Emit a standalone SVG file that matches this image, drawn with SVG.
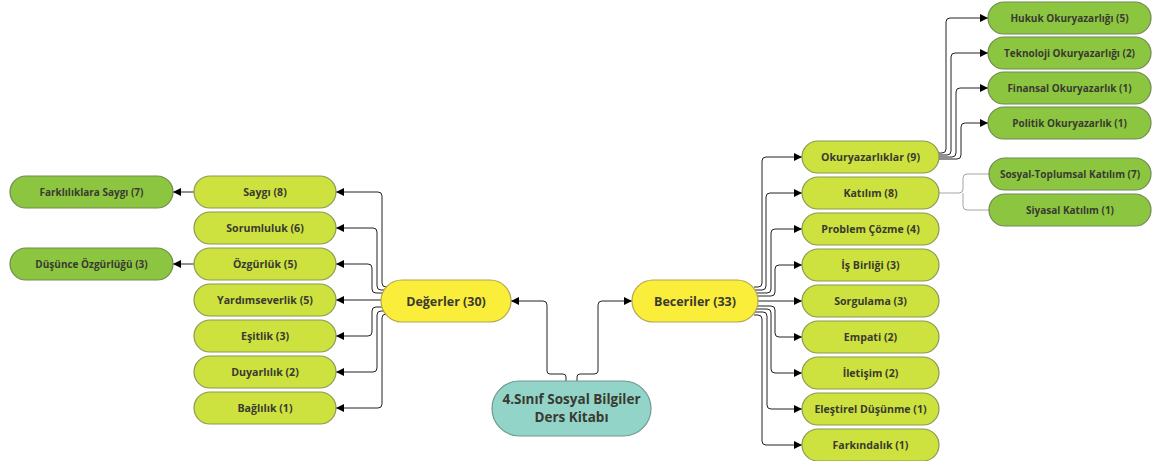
<svg xmlns="http://www.w3.org/2000/svg" width="1153" height="461" viewBox="0 0 1153 461">
<defs>
<marker id="ah" viewBox="0 0 8 8" refX="8" refY="4" markerWidth="8" markerHeight="8" markerUnits="userSpaceOnUse" orient="auto">
<path d="M0,0 L8,4 L0,8 z" fill="#000"/>
</marker>
</defs>
<style>
text{font-family:"Open Sans","DejaVu Sans",sans-serif;font-weight:bold;fill:#3a3a30;text-anchor:middle;dominant-baseline:central}
.s{font-size:10px}
.lg text{font-size:10.6px}
.m{font-size:12.5px}
.r{font-size:13.5px}
.lg rect{fill:#cde23e;stroke:#8a9a50;stroke-width:1.2}
.dg rect{fill:#8cc640;stroke:#6f8a50;stroke-width:1.2}
.yl rect{fill:#fbee3b;stroke:#b0a550;stroke-width:1.2}
.tl rect{fill:#92d4c8;stroke:#6f9a90;stroke-width:1.2}
.c path{fill:none;stroke:#222;stroke-width:1;marker-end:url(#ah)}
.c path.g{stroke:#9a9a9a;stroke-width:0.9;marker-end:none}
</style>
<rect width="1153" height="461" fill="#fff"/>
<g id="connectors" class="c">
<path d="M566 381 V377 Q566 374 563 374 H550 Q547 374 547 371 V305 Q547 301 543 301 H511"/>
<path d="M577 381 V377 Q577 374 580 374 H594 Q598 374 598 371 V305 Q598 301 602 301 H632"/>
<path d="M388 287 H386 Q382 287 382 283 V196 Q382 192 378 192 H336"/>
<path d="M386 290 H381 Q377 290 377 286 V232 Q377 228 373 228 H336"/>
<path d="M385 293 H376 Q372 293 372 289 V268 Q372 264 368 264 H336"/>
<path d="M381 300 H336"/>
<path d="M384 307 H376 Q372 307 372 311 V332 Q372 336 368 336 H336"/>
<path d="M385 311 H381 Q377 311 377 315 V368 Q377 372 373 372 H336"/>
<path d="M387 314 H386 Q382 314 382 318 V404 Q382 408 378 408 H336"/>
<path d="M194 192 H173"/>
<path d="M194 264 H173"/>
<path d="M754 287 H758 Q762 287 762 283 V161 Q762 157 766 157 H802"/>
<path d="M755 290 H762 Q766 290 766 286 V197 Q766 193 770 193 H802"/>
<path d="M756 293 H767 Q771 293 771 289 V233 Q771 229 775 229 H802"/>
<path d="M757 296 H771 Q775 296 775 292 V269 Q775 265 779 265 H802"/>
<path d="M758 301 H802"/>
<path d="M757 306 H771 Q775 306 775 310 V333 Q775 337 779 337 H802"/>
<path d="M756 309 H767 Q771 309 771 313 V369 Q771 373 775 373 H802"/>
<path d="M755 312 H763 Q767 312 767 316 V405 Q767 409 771 409 H802"/>
<path d="M754 315 H758 Q762 315 762 319 V441 Q762 445 766 445 H802"/>
<path d="M938 153 H942 Q946 153 946 149 V22 Q946 18 950 18 H988"/>
<path d="M939 155 H947 Q951 155 951 151 V57 Q951 53 955 53 H988"/>
<path d="M939 157 H952 Q956 157 956 153 V92 Q956 88 960 88 H988"/>
<path d="M939 159 H957 Q961 159 961 155 V127 Q961 123 965 123 H988"/>
<path class="g" d="M939 193 H959 Q963 193 963 189 V178 Q963 174 967 174 H989"/>
<path class="g" d="M963 193 V206 Q963 210 967 210 H989"/>
</g>
<g id="root" class="tl"><rect x="492" y="381" width="159" height="55" rx="27.5"/><text class="r" x="571.5" y="399">4.Sınıf Sosyal Bilgiler</text><text class="r" x="571.5" y="417">Ders Kitabı</text></g>
<g id="degerler" class="yl"><rect x="381" y="280" width="130" height="42" rx="21"/><text class="m" x="446" y="301">Değerler (30)</text></g>
<g id="beceriler" class="yl"><rect x="632" y="280" width="126" height="42" rx="21"/><text class="m" x="695" y="301">Beceriler (33)</text></g>
<g id="saygi" class="lg"><rect x="194" y="176" width="142" height="32" rx="16"/><text x="265" y="192">Saygı (8)</text></g>
<g id="sorumluluk" class="lg"><rect x="194" y="212" width="142" height="32" rx="16"/><text x="265" y="228">Sorumluluk (6)</text></g>
<g id="ozgurluk" class="lg"><rect x="194" y="248" width="142" height="32" rx="16"/><text x="265" y="264">Özgürlük (5)</text></g>
<g id="yardimseverlik" class="lg"><rect x="194" y="284" width="142" height="32" rx="16"/><text x="265" y="300">Yardımseverlik (5)</text></g>
<g id="esitlik" class="lg"><rect x="194" y="320" width="142" height="32" rx="16"/><text x="265" y="336">Eşitlik (3)</text></g>
<g id="duyarlilik" class="lg"><rect x="194" y="356" width="142" height="32" rx="16"/><text x="265" y="372">Duyarlılık (2)</text></g>
<g id="baglilik" class="lg"><rect x="194" y="392" width="142" height="32" rx="16"/><text x="265" y="408">Bağlılık (1)</text></g>
<g id="farkliliklara" class="dg"><rect x="10" y="176" width="163" height="32" rx="16"/><text class="s" x="91.5" y="192">Farklılıklara Saygı (7)</text></g>
<g id="dusunce" class="dg"><rect x="10" y="248" width="163" height="32" rx="16"/><text class="s" x="91.5" y="264">Düşünce Özgürlüğü (3)</text></g>
<g id="okuryazarliklar" class="lg"><rect x="802" y="141" width="137" height="32" rx="16"/><text x="870.5" y="157">Okuryazarlıklar (9)</text></g>
<g id="katilim" class="lg"><rect x="802" y="177" width="137" height="32" rx="16"/><text x="870.5" y="193">Katılım (8)</text></g>
<g id="problem" class="lg"><rect x="802" y="213" width="137" height="32" rx="16"/><text x="870.5" y="229">Problem Çözme (4)</text></g>
<g id="isbirligi" class="lg"><rect x="802" y="249" width="137" height="32" rx="16"/><text x="870.5" y="265">İş Birliği (3)</text></g>
<g id="sorgulama" class="lg"><rect x="802" y="285" width="137" height="32" rx="16"/><text x="870.5" y="301">Sorgulama (3)</text></g>
<g id="empati" class="lg"><rect x="802" y="321" width="137" height="32" rx="16"/><text x="870.5" y="337">Empati (2)</text></g>
<g id="iletisim" class="lg"><rect x="802" y="357" width="137" height="32" rx="16"/><text x="870.5" y="373">İletişim (2)</text></g>
<g id="elestirel" class="lg"><rect x="802" y="393" width="137" height="32" rx="16"/><text x="870.5" y="409">Eleştirel Düşünme (1)</text></g>
<g id="farkindalik" class="lg"><rect x="802" y="429" width="137" height="32" rx="16"/><text x="870.5" y="445">Farkındalık (1)</text></g>
<g id="hukuk" class="dg"><rect x="988" y="2" width="163" height="32" rx="16"/><text class="s" x="1069.5" y="18">Hukuk Okuryazarlığı (5)</text></g>
<g id="teknoloji" class="dg"><rect x="988" y="37" width="163" height="32" rx="16"/><text class="s" x="1069.5" y="53">Teknoloji Okuryazarlığı (2)</text></g>
<g id="finansal" class="dg"><rect x="988" y="72" width="163" height="32" rx="16"/><text class="s" x="1069.5" y="88">Finansal Okuryazarlık (1)</text></g>
<g id="politik" class="dg"><rect x="988" y="107" width="163" height="32" rx="16"/><text class="s" x="1069.5" y="123">Politik Okuryazarlık (1)</text></g>
<g id="sosyal" class="dg"><rect x="989" y="158" width="162" height="32" rx="16"/><text class="s" x="1070" y="174">Sosyal-Toplumsal Katılım (7)</text></g>
<g id="siyasal" class="dg"><rect x="989" y="194" width="162" height="32" rx="16"/><text class="s" x="1070" y="210">Siyasal Katılım (1)</text></g>
</svg>
